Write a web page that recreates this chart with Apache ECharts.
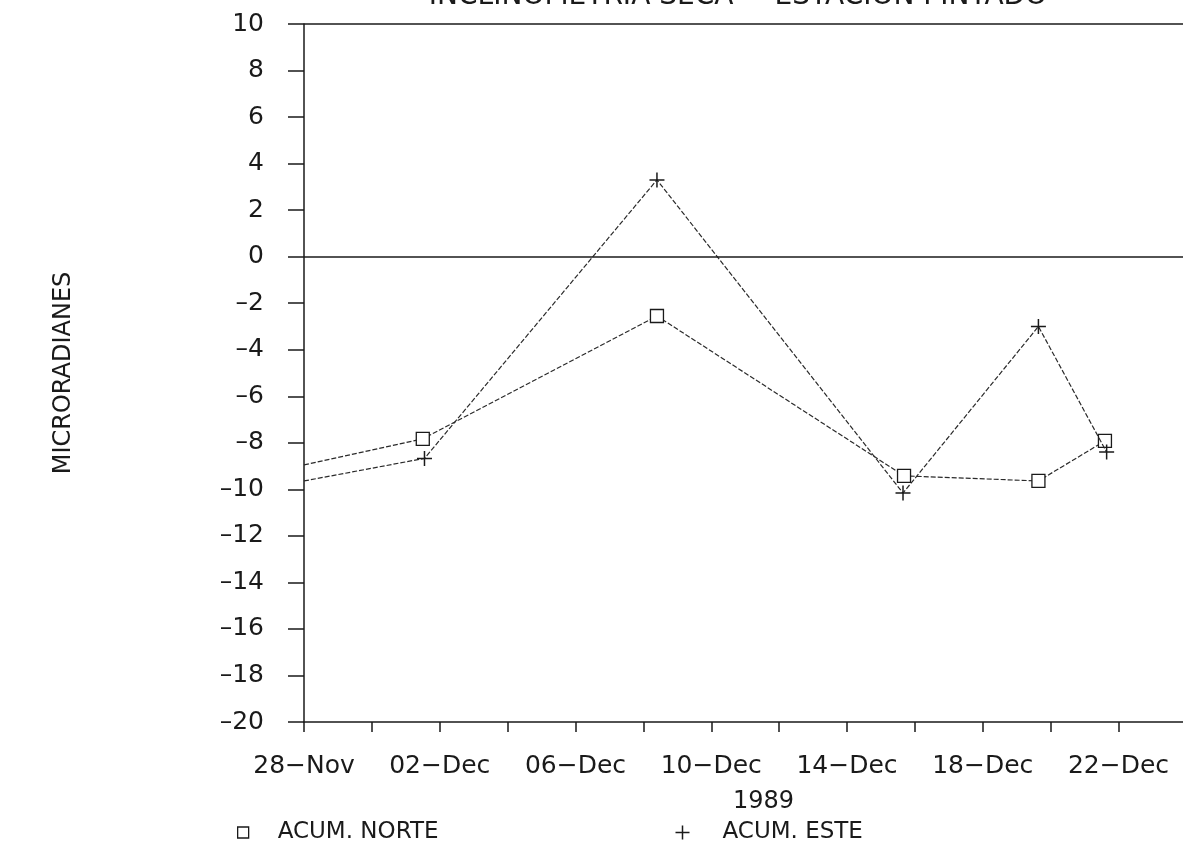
<!DOCTYPE html>
<html>
<head>
<meta charset="utf-8">
<script src="https://cdn.jsdelivr.net/npm/echarts@6/dist/echarts.min.js"></script>
<style>
html,body{margin:0;padding:0;background:#fff;}
#chart{width:1183px;height:848px;}
</style>
</head>
<body>
<div id="chart"></div>
<script>
// Days after 28-Nov-1989
var norteDays = [0, 3.5, 10.4, 17.68, 21.64, 23.6];
var norteValues = [-8.95, -7.83, -2.55, -9.42, -9.64, -7.92];
var esteDays = [0, 3.55, 10.4, 17.65, 21.64, 23.65];
var esteValues = [-9.64, -8.67, 3.30, -10.16, -3.0, -8.4];
var xTickLabels = ['28−Nov', '02−Dec', '06−Dec', '10−Dec', '14−Dec', '18−Dec', '22−Dec'];
var titleText = 'INCLINOMETRIA SECA − ESTACION PINTADO';
var yName = 'MICRORADIANES';
var xName = '1989';
var seriesNames = ['ACUM. NORTE', 'ACUM. ESTE'];

var FONT = 'DejaVu Sans';
var INK = '#1a1a1a';
var plusPath = 'path://M0,5L10,5M5,0L5,10';

function pts(days, vals) {
  return days.map(function (d, i) {
    var item = { value: [d, vals[i]] };
    if (i === 0) item.symbol = 'none';
    return item;
  });
}

var chart = echarts.init(document.getElementById('chart'), null, { renderer: 'canvas' });
chart.setOption({
  backgroundColor: '#fff',
  animation: false,
  title: {
    text: titleText,
    left: 733,
    textAlign: 'center',
    top: -22,
    textStyle: { fontFamily: FONT, fontSize: 28, fontWeight: 'normal', color: INK }
  },
  grid: { left: 304, right: 0, top: 24, bottom: 126, containLabel: false, outerBoundsMode: 'none' },
  legend: [
    {
      data: [{ name: seriesNames[0], icon: 'rect' }],
      left: 232, top: 816, itemWidth: 11, itemHeight: 11,
      itemStyle: { color: '#fff', borderColor: INK, borderWidth: 1.3 },
      textStyle: { fontFamily: FONT, fontSize: 23, color: INK, padding: [0, 0, 0, 24] }
    },
    {
      data: [{ name: seriesNames[1], icon: plusPath }],
      left: 668, top: 816, itemWidth: 14, itemHeight: 14,
      itemStyle: { color: 'none', borderColor: INK, borderWidth: 1.5 },
      textStyle: { fontFamily: FONT, fontSize: 23, color: INK, padding: [0, 0, 0, 28] }
    }
  ],
  xAxis: {
    type: 'value',
    min: 0, max: 25.9, interval: 2,
    name: xName,
    nameLocation: 'middle',
    nameGap: 68,
    nameTextStyle: { fontFamily: FONT, fontSize: 24, color: INK, padding: [0, 0, 0, 40] },
    axisLine: { show: true, onZero: false, lineStyle: { color: INK, width: 1.5 } },
    axisTick: { show: true, length: 10, lineStyle: { color: INK, width: 1.5 } },
    splitLine: { show: false },
    axisLabel: {
      margin: 32,
      fontFamily: FONT, fontSize: 25, color: INK,
      showMaxLabel: false,
      formatter: function (v) {
        if (Math.abs(v - Math.round(v)) > 1e-6) return '';
        v = Math.round(v);
        return (v % 4 === 0 && xTickLabels[v / 4]) ? xTickLabels[v / 4] : '';
      }
    }
  },
  yAxis: {
    type: 'value',
    min: -20, max: 10, interval: 2,
    name: yName,
    nameLocation: 'middle',
    nameGap: 228,
    nameTextStyle: { fontFamily: FONT, fontSize: 24, color: INK },
    axisLine: { show: true, onZero: false, lineStyle: { color: INK, width: 1.5 } },
    axisTick: { show: true, length: 16, lineStyle: { color: INK, width: 1.5 } },
    splitLine: { show: false },
    axisLabel: {
      margin: 40,
      fontFamily: FONT, fontSize: 25, color: INK,
      formatter: function (v) { return v < 0 ? '–' + Math.abs(v) : String(v); }
    }
  },
  series: [
    {
      name: seriesNames[0],
      type: 'line',
      data: pts(norteDays, norteValues),
      symbol: 'rect',
      symbolSize: 13,
      itemStyle: { color: '#fff', borderColor: INK, borderWidth: 1.3 },
      lineStyle: { color: '#2a2a2a', width: 1.2, type: [5, 2] },
      z: 3,
      markLine: {
        silent: true,
        symbol: ['none', 'none'],
        label: { show: false },
        lineStyle: { color: INK, width: 1.5, type: 'solid' },
        data: [{ yAxis: 0 }, { yAxis: 10 }]
      }
    },
    {
      name: seriesNames[1],
      type: 'line',
      data: pts(esteDays, esteValues),
      symbol: plusPath,
      symbolSize: 15,
      itemStyle: { color: 'none', borderColor: INK, borderWidth: 1.5 },
      lineStyle: { color: '#2a2a2a', width: 1.2, type: [5, 2] },
      z: 4
    }
  ]
});
</script>
</body>
</html>
